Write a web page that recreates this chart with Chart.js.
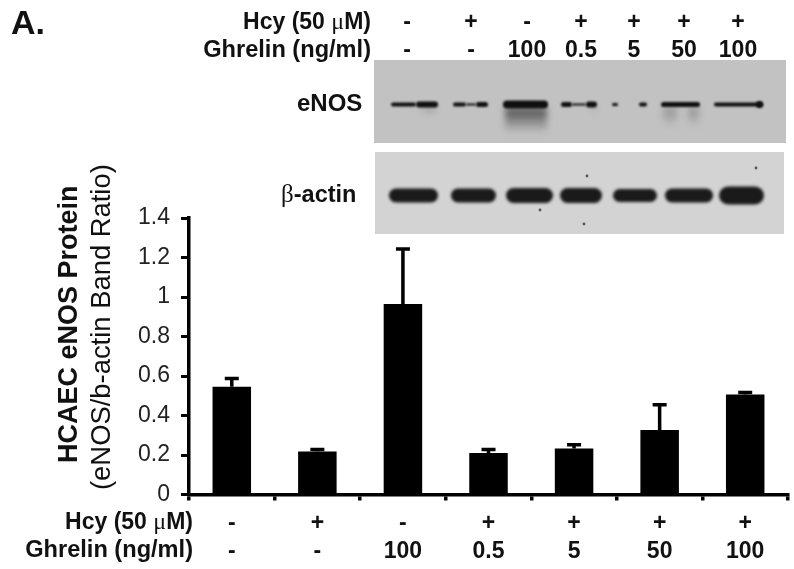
<!DOCTYPE html>
<html>
<head>
<meta charset="utf-8">
<script src="https://cdn.jsdelivr.net/npm/chart.js"></script>
<style>
    html, body { margin: 0; padding: 0; background: #fff; }
    #wrap { position: relative; width: 794px; height: 569px; overflow: hidden; font-family: "Liberation Sans", Arial, sans-serif; color: #111; }
    #chart { position: absolute; left: 0; top: 0; }
    .lbl { position: absolute; white-space: nowrap; font-weight: bold; font-size: 23px; line-height: 26px; }
    .sym { font-family: "Liberation Serif", serif; font-weight: normal; font-size: 24px; }
    .cell { transform: translateX(-50%); }
    .rot { transform-origin: 0 0; transform: rotate(-90deg); }
</style>
</head>
<body>
<div id="wrap">
    <canvas id="chart" width="794" height="569"></canvas>
</div>
<script>
const categories = ['1', '2', '3', '4', '5', '6', '7'];
const hcyRow = ['-', '+', '-', '+', '+', '+', '+'];
const ghrelinRow = ['-', '-', '100', '0.5', '5', '50', '100'];
const ratioValues = [0.545, 0.218, 0.965, 0.21, 0.233, 0.327, 0.506];
const errorTops = [0.587, 0.228, 1.243, 0.228, 0.252, 0.455, 0.516];
const yTicks = [0, 0.2, 0.4, 0.6, 0.8, 1, 1.2, 1.4];

// blot lanes, left to right
const enosBands = [[391, 416, 4], [416, 438, 6], [453, 466, 4], [466, 476, 2], [476, 488, 5], [503, 548, 8], [561, 572, 5], [572, 586, 2], [586, 597, 6], [612, 618, 3], [639, 647, 4], [661, 700, 5], [714, 763, 4], [756, 763, 7]];
const enosSmears = [[505, 547, 108, 133, 0.75], [663, 677, 108, 127, 0.3], [688, 699, 108, 127, 0.3], [422, 436, 107, 115, 0.25], [592, 597, 107, 113, 0.2]];
const actinBands = [[389, 438, 14], [451, 496, 14], [506, 553, 15], [560, 602, 15], [613, 657, 13], [665, 713, 14], [719, 764, 18]];
const actinSpecks = [[540, 210], [756, 168], [584, 224], [587, 176]];
const topCols = [407, 471, 527, 581, 634, 684, 738];

const blotPlugin = {
    id: 'blots',
    beforeDraw(chart) {
        const ctx = chart.ctx;
        ctx.save();
        ctx.fillStyle = '#c2c2c2';
        ctx.fillRect(374, 60, 412, 83);
        ctx.fillStyle = '#d3d3d3';
        ctx.fillRect(375, 152, 409, 82);

        ctx.filter = 'blur(3px)';
        enosSmears.forEach(function (s) {
            const g = ctx.createLinearGradient(0, s[2], 0, s[3]);
            g.addColorStop(0, 'rgba(40,40,40,' + s[4] + ')');
            g.addColorStop(1, 'rgba(40,40,40,0)');
            ctx.fillStyle = g;
            ctx.fillRect(s[0], s[2], s[1] - s[0], s[3] - s[2]);
        });

        ctx.filter = 'blur(1.3px)';
        ctx.fillStyle = '#101010';
        enosBands.forEach(function (b) {
            ctx.beginPath();
            ctx.roundRect(b[0], 104.5 - b[2] / 2, b[1] - b[0], b[2], b[2] / 2);
            ctx.fill();
        });
        ctx.filter = 'blur(1.6px)';
        ctx.fillStyle = '#1a1a1a';
        actinBands.forEach(function (b) {
            ctx.beginPath();
            ctx.roundRect(b[0], 195.5 - b[2] / 2, b[1] - b[0], b[2], b[2] / 2);
            ctx.fill();
        });
        ctx.filter = 'blur(0.5px)';
        ctx.fillStyle = '#555';
        actinSpecks.forEach(function (p) {
            ctx.beginPath();
            ctx.arc(p[0], p[1], 1.4, 0, Math.PI * 2);
            ctx.fill();
        });
        ctx.restore();
    }
};

const errorBarPlugin = {
    id: 'errorBars',
    afterDatasetsDraw(chart) {
        const ctx = chart.ctx;
        const x = chart.scales.x;
        const y = chart.scales.y;
        ctx.save();
        ctx.strokeStyle = '#000';
        ctx.lineWidth = 3.5;
        errorTops.forEach(function (top, i) {
            const px = x.getPixelForValue(i);
            const py = y.getPixelForValue(top);
            ctx.beginPath();
            ctx.moveTo(px, y.getPixelForValue(ratioValues[i]));
            ctx.lineTo(px, py);
            ctx.moveTo(px - 7, py);
            ctx.lineTo(px + 7, py);
            ctx.stroke();
        });
        ctx.restore();
    }
};

new Chart(document.getElementById('chart'), {
    type: 'bar',
    data: {
        labels: categories,
        datasets: [{
            data: ratioValues,
            backgroundColor: '#000',
            categoryPercentage: 1,
            barPercentage: 0.45
        }]
    },
    options: {
        responsive: false,
        animation: false,
        devicePixelRatio: 1,
        layout: { padding: { top: 218, right: 6, left: 0, bottom: 0 } },
        plugins: { legend: { display: false }, tooltip: { enabled: false } },
        scales: {
            x: {
                afterFit: function (s) { s.height = 74.5; },
                border: { color: '#000', width: 3.5 },
                grid: { offset: true, drawOnChartArea: false, color: '#000', lineWidth: 3.5, tickLength: 6 },
                ticks: {
                    color: '#111',
                    maxRotation: 0,
                    padding: 9,
                    font: { family: '"Liberation Sans", Arial, sans-serif', size: 23, weight: 'bold', lineHeight: 1.22 },
                    callback: function (v, i) { return [hcyRow[i], ghrelinRow[i]]; }
                }
            },
            y: {
                min: 0,
                max: 1.4,
                afterFit: function (s) { s.width = 189; },
                afterBuildTicks: function (s) { s.ticks = yTicks.map(function (v) { return { value: v }; }); },
                border: { color: '#000', width: 3.5 },
                grid: { drawOnChartArea: false, color: '#000', lineWidth: 3, tickLength: 8 },
                ticks: {
                    color: '#222',
                    padding: 11,
                    font: { family: '"Liberation Sans", Arial, sans-serif', size: 23 },
                    callback: function (v) { return String(v); }
                }
            }
        }
    },
    plugins: [blotPlugin, errorBarPlugin]
});

// text around the chart
const wrap = document.getElementById('wrap');
function label(html, left, top, extra, css) {
    const el = document.createElement('div');
    el.className = 'lbl ' + (extra || '');
    el.innerHTML = html;
    el.style.left = left + 'px';
    el.style.top = top + 'px';
    if (css) el.style.cssText += css;
    wrap.appendChild(el);
}
const mu = '<span class="sym">\u03BC</span>';
const hcyText = 'Hcy (50 ' + mu + 'M)';

label('A.', 11, 3, '', 'font-size:34px;line-height:38px;');
label(hcyText, 200, 8, '', 'width:171px;text-align:right;');
label('Ghrelin (ng/ml)', 190, 36, '', 'width:181px;text-align:right;font-size:23.6px;');
label('eNOS', 297, 90, '', 'font-size:24px;');
label('<span class="sym" style="font-size:25px">\u03B2</span>-actin', 281, 181, '', 'font-size:23.5px;');
label(hcyText, 22, 508, '', 'width:171px;text-align:right;');
label('Ghrelin (ng/ml)', 12, 536, '', 'width:181px;text-align:right;font-size:23.6px;');
topCols.forEach(function (x, i) {
    label(hcyRow[i], x, 8, 'cell');
    label(ghrelinRow[i], x, 36, 'cell');
});
label('HCAEC eNOS Protein', 52, 463, 'rot', 'font-size:27px;line-height:32px;');
label('(eNOS/b-actin Band Ratio)', 85, 490, 'rot', 'font-weight:normal;font-size:27.4px;line-height:32px;');
</script>
</body>
</html>
